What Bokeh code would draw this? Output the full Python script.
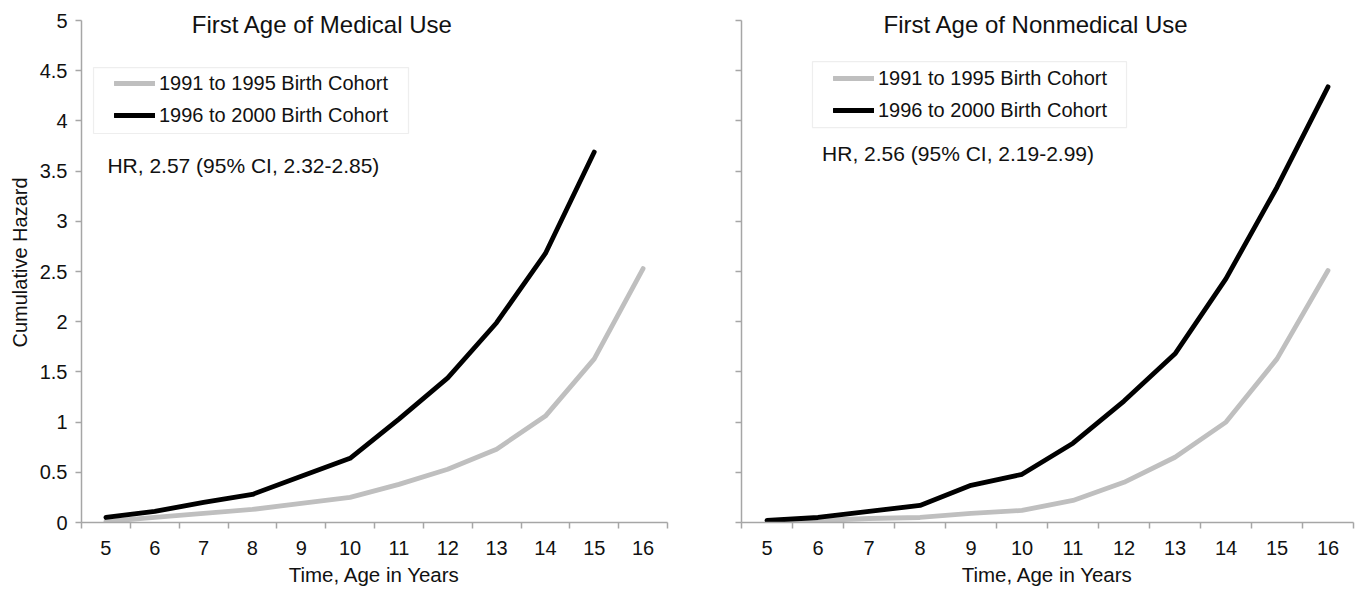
from bokeh.plotting import figure
from bokeh.models import FixedTicker, Label, BoxAnnotation, Legend, LegendItem
from bokeh.layouts import row
from bokeh.embed import file_html
from bokeh.resources import INLINE

# ---------------- data ----------------
ages = [5, 6, 7, 8, 9, 10, 11, 12, 13, 14, 15, 16]
ages_1996_medical = [5, 6, 7, 8, 9, 10, 11, 12, 13, 14, 15]

medical_1991 = [0.01, 0.05, 0.09, 0.13, 0.19, 0.25, 0.38, 0.53, 0.73, 1.06, 1.63, 2.53]
medical_1996 = [0.05, 0.11, 0.20, 0.28, 0.46, 0.64, 1.03, 1.44, 1.99, 2.68, 3.69]

nonmedical_1991 = [0.00, 0.02, 0.04, 0.05, 0.09, 0.12, 0.22, 0.40, 0.65, 1.00, 1.63, 2.51]
nonmedical_1996 = [0.02, 0.05, 0.11, 0.17, 0.37, 0.48, 0.79, 1.21, 1.68, 2.43, 3.34, 4.34]

y_ticks = [0, 0.5, 1, 1.5, 2, 2.5, 3, 3.5, 4, 4.5, 5]
y_tick_labels = ["0", "0.5", "1", "1.5", "2", "2.5", "3", "3.5", "4", "4.5", "5"]

series_names = ["1991 to 1995 Birth Cohort", "1996 to 2000 Birth Cohort"]
titles = ["First Age of Medical Use", "First Age of Nonmedical Use"]
hr_texts = ["HR, 2.57 (95% CI, 2.32-2.85)", "HR, 2.56 (95% CI, 2.19-2.99)"]
x_label = "Time, Age in Years"
y_label = "Cumulative Hazard"

FONT = "Liberation Sans"
GRAY = "#bfbfbf"
AXIS = "#a6a6a6"
BLACK = "#000000"
TXT = "#111111"


def make_panel(title, hr, x1, y1, x2, y2, show_y_labels, frame_w,
               min_left, min_right, title_x, hr_xy, box, legend_loc):
    p = figure(frame_width=frame_w, frame_height=520,
               x_range=(4.5, 16.5), y_range=(0, 5.18),
               output_backend="svg", toolbar_location=None,
               min_border_left=min_left, min_border_right=min_right,
               min_border_top=2, min_border_bottom=10)
    p.outline_line_color = None
    p.xgrid.visible = False
    p.ygrid.visible = False

    minor = [a - 0.5 for a in ages] + [ages[-1] + 0.5]
    p.xaxis.ticker = FixedTicker(ticks=ages, minor_ticks=minor)
    p.xaxis.major_tick_out = 0
    p.xaxis.major_tick_in = 0
    p.xaxis.minor_tick_out = 6
    p.xaxis.minor_tick_in = 0
    p.xaxis.minor_tick_line_color = AXIS
    p.xaxis.minor_tick_line_width = 1.5
    p.xaxis.axis_line_color = AXIS
    p.xaxis.axis_line_width = 1.5
    p.xaxis.major_label_text_font = FONT
    p.xaxis.major_label_text_font_size = "20px"
    p.xaxis.major_label_text_color = TXT
    p.xaxis.major_label_standoff = 12
    p.xaxis.axis_label = x_label
    p.xaxis.axis_label_text_font = FONT
    p.xaxis.axis_label_text_font_size = "20.5px"
    p.xaxis.axis_label_text_font_style = "normal"
    p.xaxis.axis_label_text_color = TXT
    p.xaxis.axis_label_standoff = 5

    p.yaxis.ticker = FixedTicker(ticks=y_ticks)
    p.yaxis.bounds = (y_ticks[0], y_ticks[-1])
    p.yaxis.major_tick_out = 6
    p.yaxis.major_tick_in = 0
    p.yaxis.minor_tick_out = 0
    p.yaxis.minor_tick_in = 0
    p.yaxis.major_tick_line_color = AXIS
    p.yaxis.major_tick_line_width = 1.5
    p.yaxis.axis_line_color = AXIS
    p.yaxis.axis_line_width = 1.5
    p.yaxis.major_label_text_font = FONT
    p.yaxis.major_label_text_font_size = "20px"
    p.yaxis.major_label_text_color = TXT
    if show_y_labels:
        p.yaxis.major_label_overrides = dict(zip(y_ticks, y_tick_labels))
        p.yaxis.major_label_standoff = 8
        p.yaxis.axis_label = y_label
        p.yaxis.axis_label_text_font = FONT
        p.yaxis.axis_label_text_font_size = "20px"
        p.yaxis.axis_label_text_font_style = "normal"
        p.yaxis.axis_label_text_color = TXT
        p.yaxis.axis_label_standoff = 6
    else:
        p.yaxis.major_label_overrides = {t: "" for t in y_ticks}
        p.yaxis.major_label_standoff = 0

    r1 = p.line(x1, y1, line_color=GRAY, line_width=4.8,
                line_cap="round", line_join="round")
    r2 = p.line(x2, y2, line_color=BLACK, line_width=4.8,
                line_cap="round", line_join="round")

    bl, br, bt, bb = box
    p.add_layout(BoxAnnotation(left=bl, right=br, top=bt, bottom=bb,
                               fill_alpha=0, line_color="#c8c8c8",
                               line_width=1.2, level="overlay"))

    legend = Legend(items=[LegendItem(label=series_names[0], renderers=[r1]),
                           LegendItem(label=series_names[1], renderers=[r2])],
                    location=legend_loc, margin=0, padding=0, spacing=4,
                    glyph_width=41, glyph_height=28, label_height=28,
                    label_standoff=4, label_text_font=FONT,
                    label_text_font_size="20px", label_text_color=TXT,
                    border_line_color=None, background_fill_alpha=0)
    p.add_layout(legend)

    p.add_layout(Label(x=title_x, y=4.96, text=title, text_font=FONT,
                       text_font_size="24px", text_align="center",
                       text_baseline="middle", text_color=TXT))
    p.add_layout(Label(x=hr_xy[0], y=hr_xy[1], text=hr, text_font=FONT,
                       text_font_size="21px", text_align="left",
                       text_baseline="middle", text_color=TXT))
    return p


p1 = make_panel(titles[0], hr_texts[0], ages, medical_1991,
                ages_1996_medical, medical_1996, True, 586, 81, 30,
                9.435, (5.03, 3.556), (4.746, 11.197, 4.532, 3.875), (33, 393))
p2 = make_panel(titles[1], hr_texts[1], ages, nonmedical_1991,
                ages, nonmedical_1996, False, 612, 44, 10,
                10.28, (6.08, 3.675), (5.892, 12.049, 4.592, 3.934), (92, 398))

layout = row(p1, p2)
open("out.html", "w").write(file_html(layout, INLINE))
